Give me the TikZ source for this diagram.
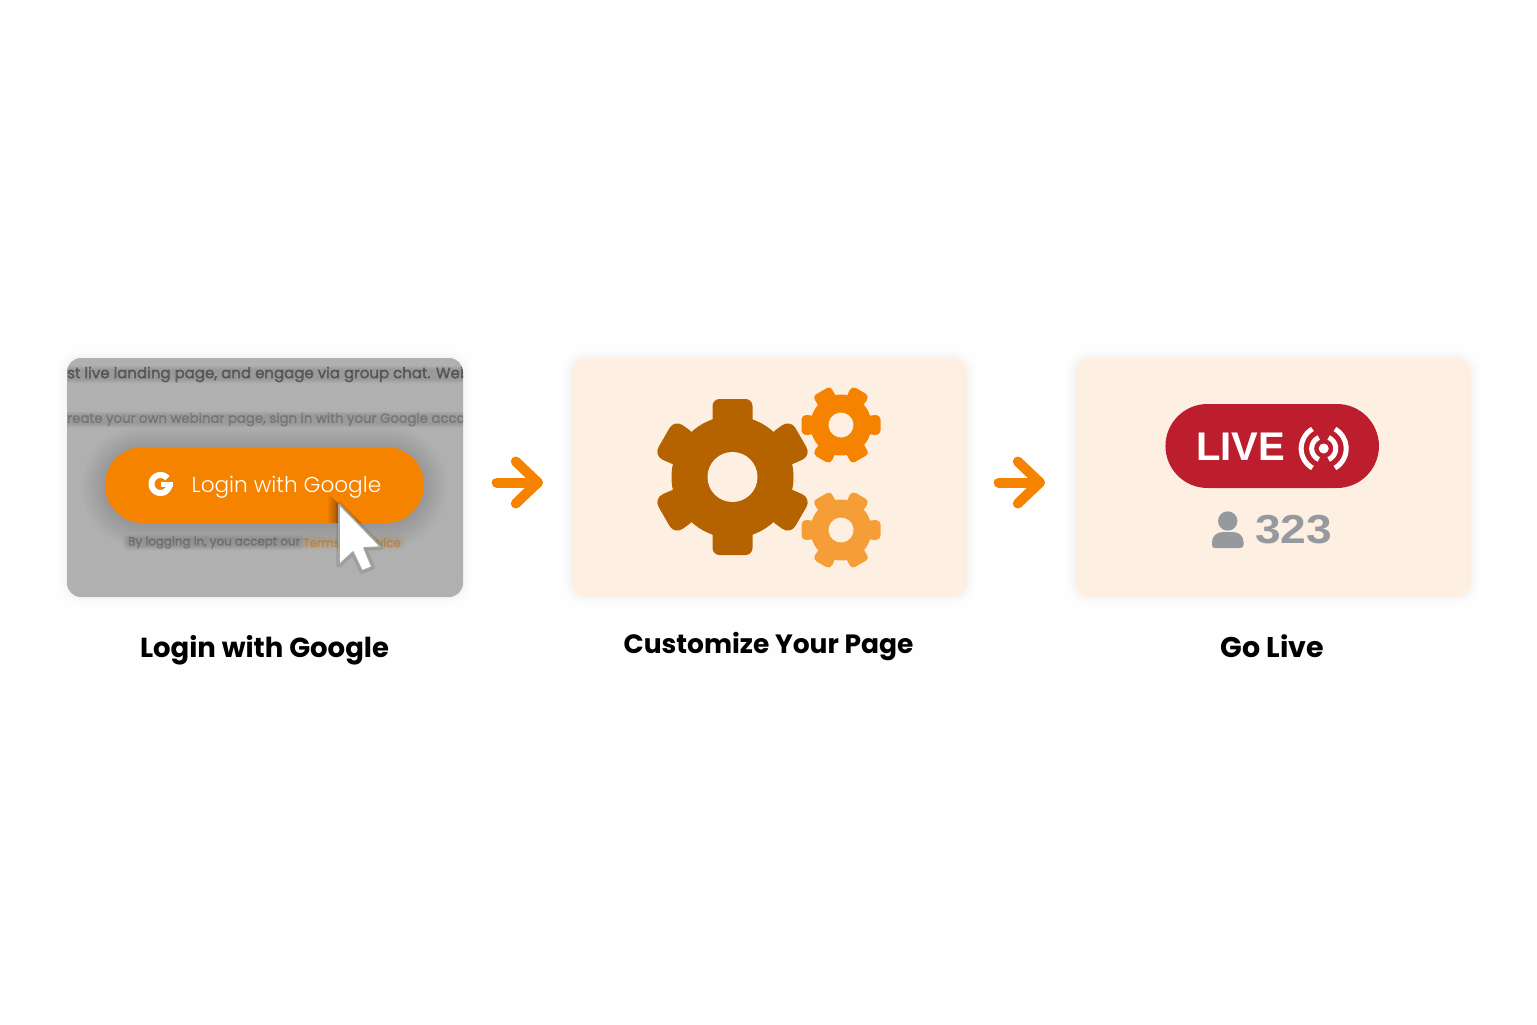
\documentclass[tikz,border=0pt]{standalone}
\usepackage{fontspec}
\usetikzlibrary{arrows.meta,calc}
\setmainfont{Poppins}
\newfontfamily\lightfont{Poppins Light}
\newfontfamily\helvfont{Liberation Sans}
\newfontfamily\smearfont[FakeBold=2.6]{Poppins}
\definecolor{pagebg}{HTML}{FEFEFE}
\definecolor{cream}{HTML}{FDF0E3}
\definecolor{cardgray}{HTML}{B0B0B0}
\definecolor{brandorange}{HTML}{F58300}
\definecolor{gearbrown}{HTML}{B56200}
\definecolor{gearlight}{HTML}{F59E38}
\definecolor{livered}{HTML}{BD1E2E}
\definecolor{usergray}{HTML}{96999E}
\tikzset{
  cardbox/.style={rectangle,rounded corners=14pt,minimum width=396pt,minimum height=239pt,inner sep=0pt,draw=none},
  caption/.style={text=black,inner sep=0pt,anchor=center},
  flowarrow/.style={draw=brandorange,line width=10pt,line cap=round,line join=round},
  gearhole/.style={fill=cream},
}
% soft shadow: x0 y0 x1 y1 radius colour opacity steps
\newcommand{\softshadow}[8]{%
  \foreach \k in {1,...,#8}{%
    \fill[#6,opacity=#7,rounded corners=#5pt+\k pt] (#1-\k,#2-\k) rectangle (#3+\k,#4+\k);
  }}
% out-of-focus text, one real text over a soft band: x0 x1 y colour size opacity text
\newcommand{\blurtext}[7]{%
  \foreach \k in {1,...,5}{%
    \fill[#4,opacity=0.024,rounded corners=#5*0.3pt] (#1-\k,#3-#5*0.3-\k*0.8) rectangle (#2+\k,#3+#5*0.3+\k*0.8);
  }
  \node[text=#4,opacity=#6,inner sep=0pt,anchor=west,font=\smearfont\fontsize{#5}{#5}\selectfont] at (#1,#3) {#7};
}
% gear: cx cy scale rotation colour
\newcommand{\gearicon}[5]{%
  \begin{scope}[shift={(#1,#2)},rotate=#4,scale=#3]
    \fill[#5] (0,0) circle[radius=61];
    \foreach \a in {0,180}{%
      \fill[#5,rotate=\a,rounded corners=7pt*#3] (-20,-50) -- (-20,-78) -- (20,-78) -- (20,-50) -- cycle;
    }
    \foreach \a in {60,120,240,300}{%
      \fill[#5,rotate=\a,rounded corners=10pt*#3] (-18,-50) -- (-21,-79) -- (21,-79) -- (18,-50) -- cycle;
    }
    \fill[gearhole] (0,0) circle[radius=25];
  \end{scope}}
\begin{document}
\begin{tikzpicture}[x=1pt,y=-1pt]
\useasboundingbox (0,0) rectangle (1537,1025);
\fill[pagebg] (0,0) rectangle (1537,1025);

% card shadows
\softshadow{67}{358}{463}{597}{14}{black}{0.005}{8}
\softshadow{571}{358}{967}{597}{14}{black}{0.004}{8}
\softshadow{1075}{358}{1471}{597}{14}{black}{0.004}{8}

% cards
\node[cardbox,fill=cardgray] (card1) at (265,477.5) {};
\node[cardbox,fill=cream] (card2) at (769,477.5) {};
\node[cardbox,fill=cream] (card3) at (1273,477.5) {};

% card 1 blurred page
\begin{scope}
  \clip[rounded corners=14pt] (67,358) rectangle (463,597);
  \blurtext{67}{463}{374.5}{black}{15}{0.34}{st live landing page, and engage via group chat. Web}
  \blurtext{67}{463}{419.5}{black}{13.3}{0.17}{reate your own webinar page, sign in with your Google acco}
  \blurtext{128}{299}{542.5}{black}{11.9}{0.17}{By logging in, you accept our}
  \blurtext{303}{401}{542.5}{brandorange!85!black}{11.9}{0.38}{Terms of Service}
  \softshadow{105}{449}{424}{525}{38}{black}{0.0035}{24}
\end{scope}

% button
\node[rectangle,rounded corners=38pt,minimum width=319pt,minimum height=76pt,inner sep=0pt,fill=brandorange] (button) at (264.5,485) {};
\node[font=\lightfont\fontsize{21.6}{24}\selectfont,text=white,inner sep=0pt,anchor=west] (buttontext) at (191.5,487) {Login with Google};

% G icon
\draw[white,line width=6pt] plot[domain=40:345,samples=40] ({160.5+9*cos(\x)},{484-9*sin(\x)});
\fill[white] (160.5,481.5) rectangle (172.5,486.5);

% cursor
\begin{scope}
  \clip[rounded corners=38pt] (105,447) rectangle (424,523);
  \foreach \k in {1,...,10}{%
    \fill[black,opacity=0.03,line join=round] (338-\k,504-\k) -- (338-\k,566) -- (382+\k,548) -- cycle;
  }
\end{scope}
\foreach \k in {1,2,3}{%
  \draw[black,opacity=0.06,line width=2*\k pt,line join=round] (339,504) -- (339,565) -- (353,552) -- (362,571) -- (372,567) -- (364,548) -- (381,547) -- cycle;
}
\path[fill=white,draw=black!35,line width=1.6pt,line join=round] (339,504) -- (339,565) -- (353,552) -- (362,571) -- (372,567) -- (364,548) -- (381,547) -- cycle;

% gears
\gearicon{732.5}{477}{1}{0}{gearbrown}
\gearicon{841}{425}{0.5}{30}{brandorange}
\gearicon{841}{530}{0.5}{30}{gearlight}

% arrows
\coordinate (a1s) at ($(card1.east)+(33.5,5)$);
\coordinate (a1e) at ($(card2.west)+(-33,5)$);
\coordinate (a2s) at ($(card2.east)+(31.5,5)$);
\coordinate (a2e) at ($(card3.west)+(-35,5)$);
\draw[flowarrow] (a1s) -- (a1e);
\draw[flowarrow] ($(a1e)+(-22,-21)$) -- (a1e) -- ($(a1e)+(-22,21)$);
\draw[flowarrow] (a2s) -- (a2e);
\draw[flowarrow] ($(a2e)+(-22,-21)$) -- (a2e) -- ($(a2e)+(-22,21)$);

% live pill
\node[rectangle,rounded corners=42pt,minimum width=213.5pt,minimum height=84pt,inner sep=0pt,fill=livered] (pill) at (1272.2,446) {};
\node[font=\helvfont\bfseries\fontsize{40}{42}\selectfont,text=white,inner sep=0pt,anchor=west] (livetext) at (1196,447) {LIVE};
\fill[white] (1323.7,448.5) circle[radius=5];
\foreach \s in {1,-1}{%
  \draw[white,line width=5pt] plot[domain=-66:66,samples=20] ({1323.7+\s*12*cos(\x)},{448.5-12*sin(\x)});
  \draw[white,line width=5pt] plot[domain=-60:60,samples=20] ({1323.7+\s*22.5*cos(\x)},{448.5-22.5*sin(\x)});
}

% viewers
\fill[usergray] (1227.7,521) circle[radius=9.7];
\fill[usergray] (1212,545) -- (1212,542) .. controls (1212,536) and (1217,532) .. (1223,532) -- (1233,532) .. controls (1239,532) and (1243.5,536) .. (1243.5,542) -- (1243.5,545) .. controls (1243.5,547) and (1242,548) .. (1240,548) -- (1215,548) .. controls (1213,548) and (1212,547) .. (1212,545) -- cycle;
\node[font=\helvfont\bfseries\fontsize{40.5}{42}\selectfont,text=usergray,inner sep=0pt,anchor=west] (count) at (1255,530) {\scalebox{1.14}[1]{323}};

% captions
\node[caption,font=\fontsize{27.5}{30}\selectfont\bfseries] (cap1) at (264.5,650.5) {Login with Google};
\node[caption,font=\fontsize{26.5}{30}\selectfont\bfseries] (cap2) at (768.5,646.5) {Customize Your Page};
\node[caption,font=\fontsize{28.5}{30}\selectfont\bfseries] (cap3) at (1272.5,646.5) {Go Live};
\end{tikzpicture}
\end{document}
